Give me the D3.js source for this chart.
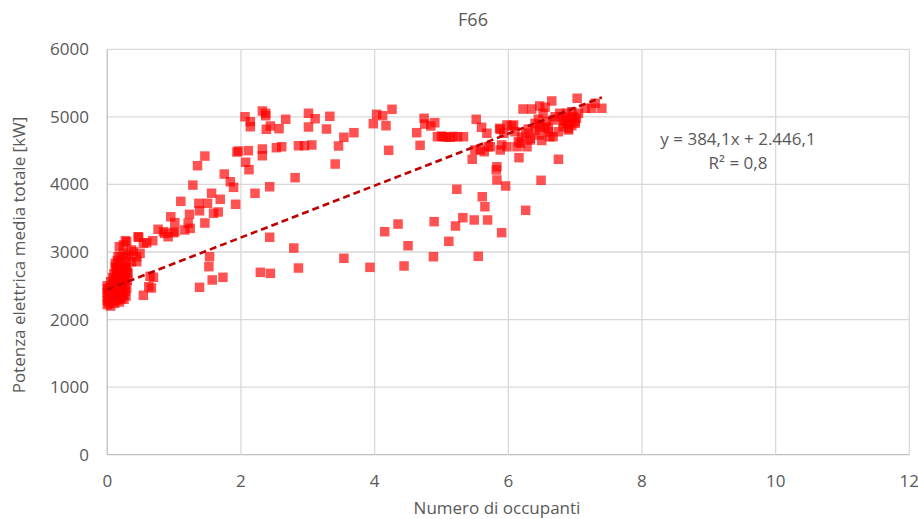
<!DOCTYPE html>
<html>
<head>
<meta charset="utf-8">
<script src="https://cdn.jsdelivr.net/npm/d3@7"></script>
<style>
  body { margin: 0; background: #fff; }
  text { font-family: "Open Sans", "Noto Sans", sans-serif; fill: #595959; }
</style>
</head>
<body>
<div id="chart"></div>
<script>
// occupants (x) and mean total electric power in kW (y)
const occupants = [
  0, 0, 0, 0, 0, 0, 0.02, 0.02, 0.03, 0.04, 0.05, 0.05, 0.06, 0.07, 0.08, 0.09, 0.1, 0.11, 0.12, 0.13,
  0.14, 0.15, 0.16, 0.17, 0.18, 0.19, 0.2, 0.21, 0.22, 0.23, 0.24, 0.25, 0.26, 0.27, 0.28, 0.29,
  0.05, 0.08, 0.1, 0.12, 0.14, 0.16, 0.18, 0.2, 0.22, 0.24, 0.26, 0.28, 0.3, 0.3, 0.12, 0.15, 0.2, 0.27,
  0.18, 0.27, 0.36, 0.47, 0.54, 0.59, 0.68, 0.76, 0.84, 0.91, 0.95, 1.01, 1.01, 1.16, 1.21, 1.23, 1.24,
  0.24, 0.29, 0.46, 0.86, 0.99,
  0.19, 0.24, 0.31, 0.39, 0.44, 0.49, 0.44, 0.36, 0.16, 0.29,
  0.12, 0.16, 0.14, 0.24, 0.29, 0.31, 0.19, 0.12, 0.26,
  0.54, 0.62, 0.66, 0.69, 0.64,
  1.10, 1.28, 1.35, 1.46, 1.37, 1.38, 1.50, 1.56, 1.69, 1.59, 1.66, 1.46, 1.75, 1.84, 1.89, 1.92, 1.96, 1.94,
  1.53, 1.52, 1.57, 1.73, 1.38,
  2.06, 2.07, 2.11, 2.12, 2.14, 2.14, 2.21, 2.32, 2.37, 2.37, 2.32, 2.32, 2.38, 2.44, 2.43, 2.43, 2.57, 2.53,
  2.61, 2.67, 2.81, 2.86, 2.95,
  2.29, 2.44, 2.79, 2.86,
  3.01, 3.01, 3.06, 3.11, 3.28, 3.33, 3.41, 3.46, 3.54, 3.69, 3.98,
  3.54, 3.93,
  4.03, 4.12, 4.17, 4.21, 4.26, 4.63, 4.68, 4.74, 4.75, 4.84, 4.90, 4.94, 5.00,
  4.15, 4.35, 4.50, 4.89, 4.44, 4.88,
  5.03, 5.08, 5.13, 5.18, 5.24, 5.23, 5.11, 5.21,
  5.32, 5.49, 5.55, 5.61, 5.65, 5.69, 5.82, 5.83, 5.96, 5.90, 5.83,
  5.52, 5.60, 5.68, 5.33, 5.46, 5.58, 5.64, 5.70, 5.87, 5.98, 5.90, 5.88, 5.93, 5.98, 5.88, 5.73, 5.50,
  6.05, 6.10, 6.15, 6.28, 6.16, 6.22, 6.35, 6.47, 6.65, 6.55, 6.26, 6.33, 6.47, 6.47, 6.60, 6.67, 6.67,
  6.77, 6.82, 6.90, 6.87, 6.97, 7.00, 7.03, 7.15, 7.25, 7.30, 7.40, 6.75, 6.49, 6.26,
  6.08, 6.47, 6.82, 6.90, 6.75, 6.62, 6.33, 6.18, 6.13, 7.05, 6.95, 7.00, 6.57, 6.40, 6.52, 6.70, 6.45,
  6.85, 6.92, 6.80, 6.88, 7.02, 6.95, 6.60, 6.55, 6.40, 6.30, 6.20, 6.50
]
const power = [
  2220, 2280, 2340, 2400, 2460, 2500, 2250, 2380, 2440, 2310, 2200, 2480, 2360, 2270, 2420, 2530, 2330, 2240, 2460, 2380,
  2290, 2520, 2410, 2340, 2260, 2480, 2390, 2310, 2550, 2440, 2360, 2300, 2500, 2420, 2350, 2470,
  2560, 2620, 2680, 2600, 2740, 2660, 2800, 2700, 2860, 2640, 2760, 2820, 2580, 2700, 2780, 2870, 2560, 2620,
  3078, 3167, 3030, 3218, 3129, 3138, 3167, 3336, 3300, 3226, 3522, 3434, 3300, 3326, 3425, 3558, 3350,
  3104, 3152, 3226, 3276, 3286,
  2930, 2980, 2956, 3005, 2930, 2980, 2856, 2856, 2930, 2930,
  2833, 2759, 2685, 2734, 2782, 2685, 2611, 2585, 2611,
  2359, 2486, 2467, 2625, 2640,
  3750, 3990, 4277, 4420, 3720, 3610, 3720, 3870, 3780, 3573, 3592, 3429, 4154, 4040, 3957, 3706, 4495, 4480,
  2930, 2783, 2586, 2625, 2477,
  5002, 4328, 4500, 4218, 4928, 4854, 3869, 5087, 5053, 5017, 4524, 4425, 4816, 4865, 3966, 3218, 4825, 4544,
  4558, 4964, 4100, 4573, 4573,
  2699, 2684, 3059, 2763,
  5053, 4850, 4584, 4973, 4820, 5008, 4302, 4569, 4698, 4766, 4899,
  2907, 2773,
  5038, 5017, 4869, 4505, 5112, 4766, 4579, 4979, 4894, 4865, 4914, 4706, 4715,
  3300, 3414, 3093, 3449, 2793, 2930,
  4706, 4700, 4698, 4710, 4706, 3928, 3158, 3385,
  3508, 3474, 2936, 3818, 3670, 3474, 4214, 4066, 3977, 3286, 4262,
  4964, 4845, 4757, 4706, 4372, 4510, 4484, 4558, 4830, 4880, 4584, 4816, 4757, 4558, 4510, 4558, 4510,
  4865, 4780, 4632, 4558, 4396, 5116, 5116, 5161, 5235, 5142, 4757, 4658, 4732, 4880, 4830, 4954, 4706,
  5053, 4929, 4830, 5053, 5002, 4904, 5275, 5127, 5127, 5201, 5127, 4372, 4061, 3617,
  4880, 4854, 4854, 4806, 4780, 4706, 4683, 4609, 4558, 5053, 5076, 4929, 4929, 4904, 5053, 5002, 4964,
  4950, 4980, 5000, 4900, 4980, 4870, 4780, 4850, 4800, 4820, 4700, 4650
]
const xTicks = [0, 2, 4, 6, 8, 10, 12]
const yTicks = [0, 1000, 2000, 3000, 4000, 5000, 6000]
const trend = { slope: 384.1, intercept: 2446.1, from: 0, to: 7.4 }
const chartTitle = 'F66'
const xTitle = 'Numero di occupanti'
const yTitle = 'Potenza elettrica media totale [kW]'
const eqLines = ['y = 384,1x + 2.446,1', 'R² = 0,8']

const width = 918, height = 519
const plot = { left: 107.3, right: 909.3, top: 49.3, bottom: 454.7 }

const x = d3.scaleLinear().domain([0, 12]).range([plot.left, plot.right])
const y = d3.scaleLinear().domain([0, 6000]).range([plot.bottom, plot.top])

const svg = d3.select('#chart').append('svg')
  .attr('width', width)
  .attr('height', height)

// gridlines
svg.append('g').selectAll('line')
  .data(yTicks)
  .join('line')
  .attr('x1', plot.left).attr('x2', plot.right)
  .attr('y1', d => y(d)).attr('y2', d => y(d))
  .attr('stroke', d => d === 0 ? '#bfbfbf' : '#d9d9d9')
  .attr('stroke-width', 1.3)

svg.append('g').selectAll('line')
  .data(xTicks)
  .join('line')
  .attr('x1', d => x(d)).attr('x2', d => x(d))
  .attr('y1', plot.top).attr('y2', plot.bottom)
  .attr('stroke', d => d === 0 ? '#bfbfbf' : '#d9d9d9')
  .attr('stroke-width', 1.3)

// tick labels
svg.append('g').selectAll('text')
  .data(yTicks)
  .join('text')
  .attr('x', 89)
  .attr('y', d => y(d))
  .attr('dy', '0.35em')
  .attr('text-anchor', 'end')
  .style('font-size', '17px')
  .text(d => d)

svg.append('g').selectAll('text')
  .data(xTicks)
  .join('text')
  .attr('x', d => x(d))
  .attr('y', 481)
  .attr('dy', '0.35em')
  .attr('text-anchor', 'middle')
  .style('font-size', '17px')
  .text(d => d)

// points
const size = 9.5
svg.append('g').selectAll('rect')
  .data(d3.range(occupants.length))
  .join('rect')
  .attr('x', i => x(occupants[i]) - size / 2)
  .attr('y', i => y(power[i]) - size / 2)
  .attr('width', size)
  .attr('height', size)
  .attr('fill', '#ff0000')
  .attr('fill-opacity', 0.68)

// linear trendline
svg.append('line')
  .attr('x1', x(trend.from))
  .attr('y1', y(trend.intercept + trend.slope * trend.from))
  .attr('x2', x(trend.to))
  .attr('y2', y(trend.intercept + trend.slope * trend.to))
  .attr('stroke', '#c00000')
  .attr('stroke-width', 2.6)
  .attr('stroke-dasharray', '7,4')

// equation
svg.append('g').selectAll('text')
  .data(eqLines)
  .join('text')
  .attr('x', 738)
  .attr('y', (d, i) => 139 + i * 24)
  .attr('dy', '0.35em')
  .attr('text-anchor', 'middle')
  .style('font-size', '17px')
  .text(d => d)

// titles
svg.append('text')
  .attr('x', 473)
  .attr('y', 20)
  .attr('dy', '0.35em')
  .attr('text-anchor', 'middle')
  .style('font-size', '18px')
  .text(chartTitle)

svg.append('text')
  .attr('x', 497)
  .attr('y', 508)
  .attr('dy', '0.35em')
  .attr('text-anchor', 'middle')
  .style('font-size', '17px')
  .text(xTitle)

svg.append('text')
  .attr('transform', 'translate(19,255) rotate(-90)')
  .attr('dy', '0.35em')
  .attr('text-anchor', 'middle')
  .style('font-size', '17px')
  .text(yTitle)
</script>
</body>
</html>
